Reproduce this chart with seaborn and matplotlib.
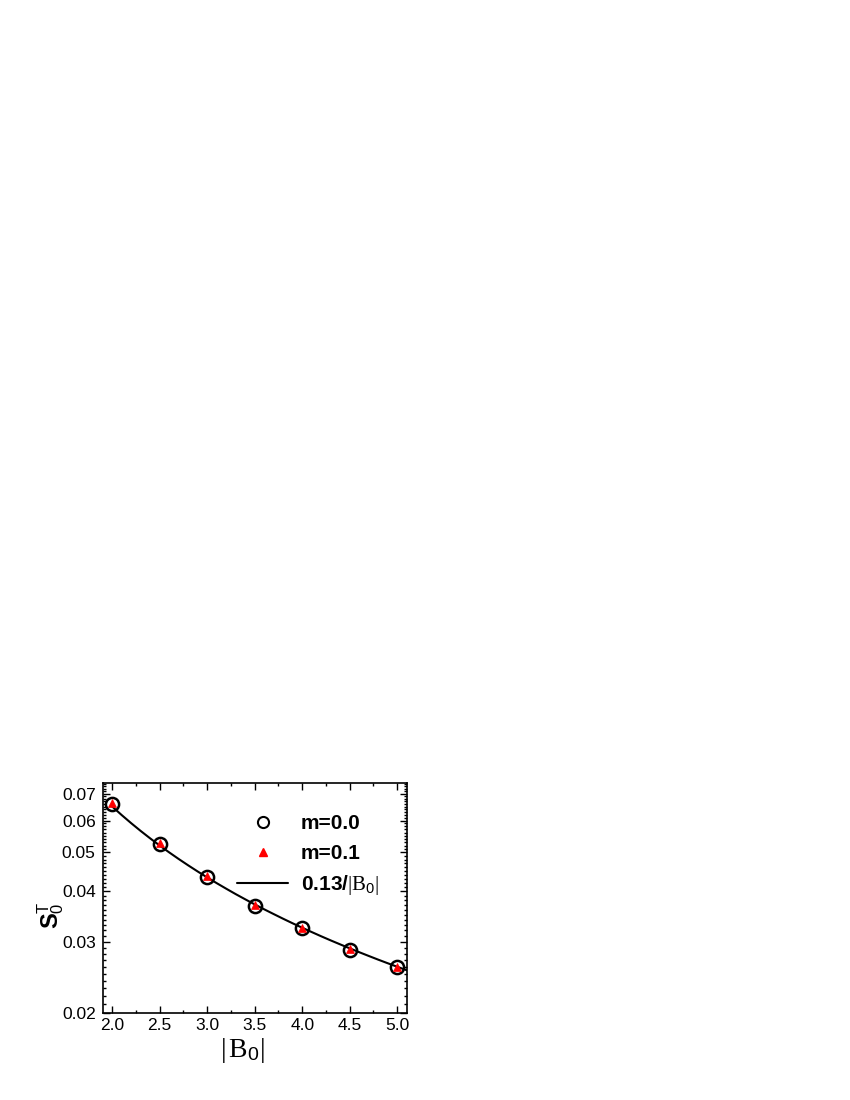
import numpy as np
import matplotlib
matplotlib.use("Agg")
import matplotlib.pyplot as plt
import seaborn as sns
from matplotlib.ticker import FixedLocator, FixedFormatter, NullFormatter
from matplotlib.lines import Line2D

# ---- data ----
B0 = [2.0, 2.5, 3.0, 3.5, 4.0, 4.5, 5.0]
s_m00 = [0.0660, 0.0524, 0.0435, 0.0369, 0.0324, 0.0286, 0.0259]
s_m01 = [0.0664, 0.0527, 0.0437, 0.0371, 0.0325, 0.0287, 0.0260]

fit_B0 = [2.0, 2.1, 2.2, 2.3, 2.4, 2.5, 2.6, 2.7, 2.8, 2.9, 3.0, 3.1, 3.2, 3.3,
          3.4, 3.5, 3.6, 3.7, 3.8, 3.9, 4.0, 4.1, 4.2, 4.3, 4.4, 4.5, 4.6, 4.7,
          4.8, 4.9, 5.0, 5.1]
fit_s = [0.06500, 0.06190, 0.05909, 0.05652, 0.05417, 0.05200, 0.05000, 0.04815,
         0.04643, 0.04483, 0.04333, 0.04194, 0.04063, 0.03939, 0.03824, 0.03714,
         0.03611, 0.03514, 0.03421, 0.03333, 0.03250, 0.03171, 0.03095, 0.03023,
         0.02955, 0.02889, 0.02826, 0.02766, 0.02708, 0.02653, 0.02600, 0.02549]

xticks = [2.0, 2.5, 3.0, 3.5, 4.0, 4.5, 5.0]
xtick_labels = ["2.0", "2.5", "3.0", "3.5", "4.0", "4.5", "5.0"]
yticks = [0.02, 0.03, 0.04, 0.05, 0.06, 0.07]
ytick_labels = ["0.02", "0.03", "0.04", "0.05", "0.06", "0.07"]

label_m00 = "m=0.0"
label_m01 = "m=0.1"
label_fit = r"0.13/$|\mathrm{B}_{\mathsf{0}}|$"

# ---- style ----
sns.set_theme(style="ticks")
plt.rcParams["font.family"] = ["Liberation Sans", "DejaVu Sans"]
plt.rcParams["mathtext.fontset"] = "custom"
plt.rcParams["mathtext.rm"] = "Liberation Serif"
plt.rcParams["mathtext.sf"] = "Liberation Sans"
plt.rcParams["mathtext.bf"] = "Liberation Sans:bold"
plt.rcParams["mathtext.it"] = "Liberation Serif:italic"
plt.rcParams["text.color"] = "black"
plt.rcParams["axes.labelcolor"] = "black"
plt.rcParams["xtick.color"] = "black"
plt.rcParams["ytick.color"] = "black"

fig = plt.figure(figsize=(8.5, 11), dpi=100)
ax = fig.add_axes([0.1208, 0.0794, 0.3577, 0.2091])

sns.lineplot(x=fit_B0, y=fit_s, color="black", linewidth=1.5, ax=ax, zorder=2)
sns.lineplot(x=B0, y=s_m00, ax=ax, linestyle="none", marker="o", markersize=9.5,
             markerfacecolor="none", markeredgecolor="black", markeredgewidth=1.8,
             zorder=3)
sns.lineplot(x=B0, y=s_m01, ax=ax, linestyle="none", marker="^", markersize=6,
             markerfacecolor="red", markeredgecolor="red", markeredgewidth=0.5,
             zorder=4)

ax.set_yscale("log")
ax.set_xlim(1.9, 5.1)
ax.set_ylim(0.02, 0.0745)

ax.xaxis.set_major_locator(FixedLocator(xticks))
ax.xaxis.set_major_formatter(FixedFormatter(xtick_labels))
ax.xaxis.set_minor_locator(FixedLocator(np.arange(1.75, 5.2, 0.25)))
ax.yaxis.set_major_locator(FixedLocator(yticks))
ax.yaxis.set_major_formatter(FixedFormatter(ytick_labels))
ax.yaxis.set_minor_locator(FixedLocator(np.arange(0.020, 0.0745, 0.001)))
ax.yaxis.set_minor_formatter(NullFormatter())

ax.tick_params(which="both", direction="in", top=True, right=True,
               color="black", width=1.0)
ax.tick_params(axis="x", which="major", length=5, labelsize=12.5, pad=4,
               labelcolor="black")
ax.tick_params(axis="y", which="major", length=5, labelsize=12.5, pad=5,
               labelcolor="black")
ax.tick_params(which="minor", length=2.5)
for sp in ax.spines.values():
    sp.set_linewidth(1.2)
    sp.set_color("black")
    sp.set_visible(True)

ax.set_xlabel(r"$|\,\mathrm{B}_{\mathsf{0}}|$", fontsize=20, color="black")
ax.xaxis.set_label_coords(0.458, -0.10)
ax.set_ylabel(r"$\mathbf{S}_{\mathsf{0}}^{\mathsf{T}}$", fontsize=17, color="black")
ax.yaxis.set_label_coords(-0.12, 0.426)

handles = [
    Line2D([], [], linestyle="none", marker="o", markersize=8, markerfacecolor="none",
           markeredgecolor="black", markeredgewidth=1.5),
    Line2D([], [], linestyle="none", marker="^", markersize=6, markerfacecolor="red",
           markeredgecolor="red"),
    Line2D([], [], color="black", linewidth=1.5),
]
leg = ax.legend(handles, [label_m00, label_m01, label_fit], loc="upper left",
                bbox_to_anchor=(0.442, 0.862), frameon=False, borderpad=0,
                borderaxespad=0, handlelength=2.45, handletextpad=0.6,
                labelspacing=0.5, prop={"weight": "bold", "size": 15})
for t in leg.get_texts():
    t.set_color("black")

fig.savefig("out.png", dpi=100)
